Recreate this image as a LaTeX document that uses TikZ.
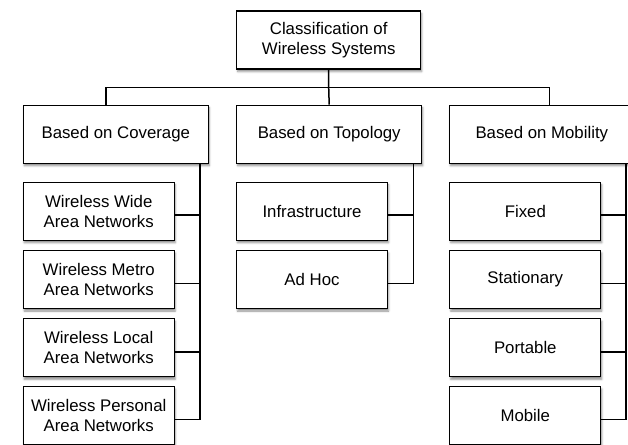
\documentclass[tikz,border=0pt]{standalone}
\usepackage{fontspec}
\setmainfont{Liberation Sans}
\usetikzlibrary{shadows.blur}
\tikzset{
  box/.style={draw, line width=1.2pt, fill=white, align=center, inner sep=0pt,
    minimum height=58pt, font=\fontsize{16.8}{20}\selectfont,
    blur shadow={shadow xshift=1pt, shadow yshift=-2.5pt, shadow blur radius=2pt, shadow opacity=45}},
  headbox/.style={box, minimum width=185pt},
  leafbox/.style={box, minimum width=151pt},
  link/.style={line width=1.5pt}
}
\begin{document}
\begin{tikzpicture}[x=1pt,y=-1pt]
\clip (0,0) rectangle (628,444);
% root and the three groups
\node[box, minimum width=184pt] (root) at (328.7,40) {Classification of\\Wireless Systems};
\node[headbox] (cov) at (115.8,134.2) {Based on Coverage};
\node[headbox] (topo) at (329.2,134.2) {Based on Topology};
\node[headbox] (mob) at (541.8,134.2) {Based on Mobility};
\draw[link] (root.south) -- ++(0,18) coordinate (bus) -- (topo.north);
\draw[link] ([xshift=-10pt]cov.north) |- (bus) -| ([xshift=7.5pt]mob.north);
% coverage
\node[leafbox] (wwan) at (98.7,211.2) {Wireless Wide\\Area Networks};
\node[leafbox] (wman) at (98.7,279.5) {Wireless Metro\\Area Networks};
\node[leafbox] (wlan) at (98.7,347.8) {Wireless Local\\Area Networks};
\node[leafbox] (wpan) at (98.7,415.5) {Wireless Personal\\Area Networks};
% topology
\node[leafbox] (infra) at (312,211.2) {Infrastructure};
\node[leafbox] (adhoc) at (312,279.5) {Ad Hoc};
% mobility
\node[leafbox] (fixed) at (525.3,211.2) {Fixed};
\node[leafbox] (stat) at (525.3,279.5) {Stationary};
\node[leafbox] (port) at (525.3,347.8) {Portable};
\node[leafbox] (mobile) at (525.3,415.5) {Mobile};
\foreach \leaf in {wwan,wman,wlan,wpan}
  \draw[link] ([yshift=-4pt]\leaf.east) -| ([xshift=-9pt]cov.south east);
\foreach \leaf in {infra,adhoc}
  \draw[link] ([yshift=-4pt]\leaf.east) -| ([xshift=-9pt]topo.south east);
\foreach \leaf in {fixed,stat,port,mobile}
  \draw[link] ([yshift=-4pt]\leaf.east) -| ([xshift=-9pt]mob.south east);
\end{tikzpicture}
\end{document}
